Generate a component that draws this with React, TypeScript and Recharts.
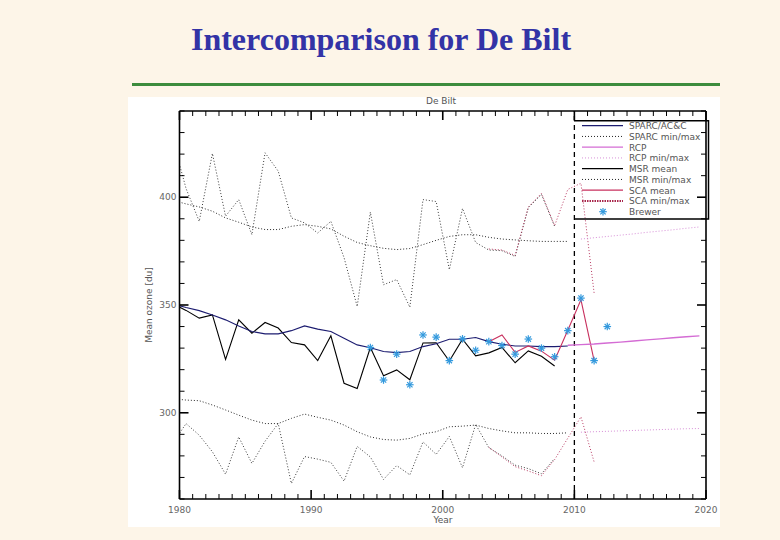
import { ComposedChart, Line, XAxis, YAxis, ReferenceLine, Legend } from "recharts"

// half-year grid (annual means plotted mid-year)
const years = [
  1979.5, 1980.5, 1981.5, 1982.5, 1983.5, 1984.5, 1985.5, 1986.5, 1987.5, 1988.5,
  1989.5, 1990.5, 1991.5, 1992.5, 1993.5, 1994.5, 1995.5, 1996.5, 1997.5, 1998.5,
  1999.5, 2000.5, 2001.5, 2002.5, 2003.5, 2004.5, 2005.5, 2006.5, 2007.5, 2008.5,
  2009.5, 2010.5, 2011.5, 2012.5, 2013.5, 2014.5, 2015.5, 2016.5, 2017.5, 2018.5,
  2019.5,
]

const sparcStart = 1979.5
const sparcMean = [
  350.5, 348.8, 347.4, 345.4, 343.1, 340.3, 337.7, 336.6, 336.6, 338.1, 340.3, 338.8,
  337.7, 334.6, 331.5, 330.2, 328.4, 327.9, 328.4, 330.7, 332.0, 334.1, 334.1, 334.9,
  333.0, 331.8, 331.0, 331.0, 330.7, 330.7, 331.0,
]
const sparcMax = [
  398.5, 396.9, 395.5, 393.5, 390.4, 388.4, 386.2, 385.0, 385.0, 386.5, 387.3, 386.5,
  385.3, 381.9, 379.0, 377.5, 376.3, 375.7, 376.2, 378.0, 380.0, 381.8, 382.6, 382.6,
  381.4, 380.6, 380.2, 379.8, 379.5, 379.5, 379.5,
]
const sparcMin = [
  306.5, 305.9, 305.6, 303.6, 301.3, 298.9, 296.6, 295.0, 295.0, 297.4, 299.4, 297.9,
  296.6, 294.3, 291.2, 288.8, 287.6, 287.3, 288.1, 290.2, 291.2, 293.5, 293.8, 294.3,
  292.7, 291.6, 290.7, 290.7, 290.4, 290.4, 290.7,
]

const msrStart = 1979.5
const msrMean = [
  350.5, 347.5, 343.9, 345.4, 324.8, 343.1, 336.9, 341.9, 339.3, 332.6, 331.5, 324.2,
  335.7, 313.7, 311.3, 330.3, 317.2, 319.9, 315.3, 332.4, 332.5, 324.0, 334.1, 326.4,
  327.8, 330.3, 323.2, 328.7, 326.2, 321.7,
]
const msrMax = [
  426.4, 404.0, 388.8, 420.3, 391.2, 398.9, 382.6, 420.6, 412.1, 390.4, 388.1, 383.4,
  388.8, 372.0, 349.3, 393.1, 359.4, 361.8, 349.0, 398.9, 398.0, 366.4, 394.8, 379.0,
  375.5, 375.2, 372.5, 395.1, 401.3, 386.5,
]
const msrMin = [
  286.0, 295.0, 289.6, 281.9, 271.5, 288.8, 276.5, 286.8, 295.0, 267.2, 279.7, 278.5,
  277.0, 268.3, 284.4, 279.5, 269.1, 275.5, 271.2, 286.5, 280.7, 289.0, 274.5, 294.6,
  283.8, 280.0, 275.7, 274.1, 271.7, 278.8,
]

const scaStart = 2003.5
const scaMean = [333.0, 336.1, 328.0, 331.0, 328.6, 324.4, 338.3, 352.4, 324.2]
const scaMax = [376.0, 375.5, 373.0, 395.5, 401.8, 386.8, 403.6, 406.5, 355.5]
const scaMin = [284.0, 279.5, 275.0, 273.0, 270.8, 278.3, 288.2, 298.1, 277.2]

const rcpStart = 2009.5
const rcpMean = [331.3, 331.6, 331.9, 332.4, 332.8, 333.3, 333.8, 334.3, 334.8, 335.3, 335.7]
const rcpRangeStart = 2010.5
const rcpMax = [380.6, 381.2, 381.8, 382.4, 383.0, 383.7, 384.3, 384.9, 385.6, 386.2]
const rcpMin = [291.0, 291.2, 291.4, 291.6, 291.8, 292.0, 292.2, 292.4, 292.6, 292.7]

const brewerStart = 1994.5
const brewer = [
  330.3, 315.2, 327.2, 313.0, 336.1, 335.1, 324.2, 334.3, 329.0, 333.0, 331.2, 327.2,
  334.2, 330.0, 326.0, 338.1, 353.2, 324.2, 340.0,
]

const xMajor = [1980, 1990, 2000, 2010, 2020]
const yMajor = [300, 350, 400]
const xTicks = Array.from({ length: 41 }, (_, i) => 1980 + i)
const yTicks = Array.from({ length: 19 }, (_, i) => 260 + i * 10)

const legendItems = [
  { label: "SPARC/AC&C", color: "#1c1c70", dash: undefined, width: 1.2 },
  { label: "SPARC min/max", color: "#222", dash: "1 2", width: 1 },
  { label: "RCP", color: "#d46cd4", dash: undefined, width: 1.2 },
  { label: "RCP min/max", color: "#d890d8", dash: "1 2", width: 1 },
  { label: "MSR mean", color: "#000", dash: undefined, width: 1.2 },
  { label: "MSR min/max", color: "#222", dash: "1 2", width: 1 },
  { label: "SCA mean", color: "#c8305e", dash: undefined, width: 1.2 },
  { label: "SCA min/max", color: "#a8284c", dash: "1.5 1", width: 2 },
  { label: "Brewer", color: "#3399dd", dash: "star", width: 1 },
]

const pick = (arr: number[], start: number, yr: number) => {
  const i = Math.round(yr - start)
  return i >= 0 && i < arr.length ? arr[i] : null
}

const data = years.map((yr) => ({
  year: yr,
  sparcMean: pick(sparcMean, sparcStart, yr),
  sparcMax: pick(sparcMax, sparcStart, yr),
  sparcMin: pick(sparcMin, sparcStart, yr),
  msrMean: pick(msrMean, msrStart, yr),
  msrMax: pick(msrMax, msrStart, yr),
  msrMin: pick(msrMin, msrStart, yr),
  scaMean: pick(scaMean, scaStart, yr),
  scaMax: pick(scaMax, scaStart, yr),
  scaMin: pick(scaMin, scaStart, yr),
  rcpMean: pick(rcpMean, rcpStart, yr),
  rcpMax: pick(rcpMax, rcpRangeStart, yr),
  rcpMin: pick(rcpMin, rcpRangeStart, yr),
  brewer: pick(brewer, brewerStart, yr),
}))

const labelFont = "'DejaVu Sans', sans-serif"

function XTick(props: any) {
  const { x, y, payload, side } = props
  const major = xMajor.includes(payload.value)
  const len = major ? 9 : 5
  const dir = side === "bottom" ? -1 : 1
  return (
    <g>
      <line x1={x} y1={y} x2={x} y2={y + dir * len} stroke="#000" strokeWidth={major ? 1.6 : 1} />
      {side === "bottom" && major && (
        <text x={x} y={y + 14} textAnchor="middle" fontSize={9} fontFamily={labelFont} fill="#666">
          {payload.value}
        </text>
      )}
    </g>
  )
}

function YTick(props: any) {
  const { x, y, payload, side } = props
  const major = yMajor.includes(payload.value)
  const len = major ? 9 : 5
  const dir = side === "left" ? 1 : -1
  return (
    <g>
      <line x1={x} y1={y} x2={x + dir * len} y2={y} stroke="#000" strokeWidth={major ? 1.6 : 1} />
      {side === "left" && major && (
        <text x={x - 3} y={y + 3} textAnchor="end" fontSize={9} fontFamily={labelFont} fill="#666">
          {payload.value}
        </text>
      )}
    </g>
  )
}

function Star(props: any) {
  const { cx, cy, value } = props
  if (value == null || cx == null || cy == null) return <g />
  const r = 3.8
  const d = r * 0.7
  return (
    <g stroke="#3399dd" strokeWidth={1.2}>
      <line x1={cx - r} y1={cy} x2={cx + r} y2={cy} />
      <line x1={cx} y1={cy - r} x2={cx} y2={cy + r} />
      <line x1={cx - d} y1={cy - d} x2={cx + d} y2={cy + d} />
      <line x1={cx - d} y1={cy + d} x2={cx + d} y2={cy - d} />
    </g>
  )
}

function LegendBox() {
  const rowH = 10.75
  return (
    <svg width={136} height={100} style={{ display: "block", overflow: "visible" }}>
      <polyline points="0,0.75 134.5,0.75 134.5,99 0,99" fill="none" stroke="#000" strokeWidth={1.5} />
      {legendItems.map((it, i) => {
        const y = 5.7 + i * rowH
        return (
          <g key={it.label}>
            {it.dash === "star" ? (
              <Star cx={29} cy={y} value={1} />
            ) : (
              <line x1={8} y1={y} x2={49} y2={y} stroke={it.color} strokeWidth={it.width} strokeDasharray={it.dash} />
            )}
            <text x={55} y={y + 3.3} fontSize={9} fontFamily={labelFont} fill="#555">
              {it.label}
            </text>
          </g>
        )
      })}
    </svg>
  )
}

const lineProps = { dot: false, activeDot: false, isAnimationActive: false, xAxisId: "b", yAxisId: "l", legendType: "none" as const }

export default function App() {
  return (
    <div style={{ position: "absolute", left: 0, top: 0, width: 780, height: 540, background: "#fdf5e8", overflow: "hidden" }}>
      <div
        style={{
          position: "absolute",
          left: 0,
          top: 23,
          width: 762,
          textAlign: "center",
          fontFamily: "'Liberation Serif', 'DejaVu Serif', serif",
          fontWeight: "bold",
          fontSize: 32,
          lineHeight: "32px",
          color: "#3333a6",
        }}
      >
        Intercomparison for De Bilt
      </div>
      <div style={{ position: "absolute", left: 132, top: 83, width: 588, height: 3, background: "#3d8c3d" }} />
      <div style={{ position: "absolute", left: 128, top: 97, width: 592, height: 430, background: "#fff" }}>
        <ComposedChart width={592} height={430} data={data} margin={{ top: 13, right: 13, bottom: 8, left: 11.5 }}>
          <XAxis
            xAxisId="b"
            dataKey="year"
            type="number"
            domain={[1980, 2020]}
            allowDataOverflow
            ticks={xTicks}
            interval={0}
            tickLine={false}
            tickSize={0}
            tickMargin={0}
            height={20}
            axisLine={{ stroke: "#000", strokeWidth: 1.6 }}
            tick={(p: any) => <XTick {...p} side="bottom" />}
          />
          <XAxis
            xAxisId="t"
            orientation="top"
            dataKey="year"
            type="number"
            domain={[1980, 2020]}
            allowDataOverflow
            ticks={xTicks}
            interval={0}
            tickLine={false}
            tickSize={0}
            tickMargin={0}
            height={1}
            axisLine={{ stroke: "#000", strokeWidth: 1.6 }}
            tick={(p: any) => <XTick {...p} side="top" />}
          />
          <YAxis
            yAxisId="l"
            type="number"
            domain={[260, 440]}
            allowDataOverflow
            ticks={yTicks}
            interval={0}
            tickLine={false}
            tickSize={0}
            tickMargin={0}
            width={40}
            axisLine={{ stroke: "#000", strokeWidth: 1.6 }}
            tick={(p: any) => <YTick {...p} side="left" />}
          />
          <YAxis
            yAxisId="r"
            orientation="right"
            type="number"
            domain={[260, 440]}
            allowDataOverflow
            ticks={yTicks}
            interval={0}
            tickLine={false}
            tickSize={0}
            tickMargin={0}
            width={1}
            axisLine={{ stroke: "#000", strokeWidth: 1.6 }}
            tick={(p: any) => <YTick {...p} side="right" />}
          />
          <Legend
            layout="horizontal"
            verticalAlign="middle"
            align="center"
            content={() => <LegendBox />}
            wrapperStyle={{ position: "absolute", left: 446, top: 23, width: 136, height: 100 }}
          />
          <ReferenceLine xAxisId="b" yAxisId="l" x={2010} stroke="#000" strokeWidth={1.3} strokeDasharray="5 4" />

          <Line {...lineProps} dataKey="sparcMax" stroke="#2a2a2a" strokeWidth={1} strokeDasharray="1 2" />
          <Line {...lineProps} dataKey="sparcMin" stroke="#2a2a2a" strokeWidth={1} strokeDasharray="1 2" />
          <Line {...lineProps} dataKey="msrMax" stroke="#3a3a3a" strokeWidth={1} strokeDasharray="1 2" />
          <Line {...lineProps} dataKey="msrMin" stroke="#3a3a3a" strokeWidth={1} strokeDasharray="1 2" />
          <Line {...lineProps} dataKey="scaMax" stroke="#b83a62" strokeWidth={1} strokeDasharray="1 2" />
          <Line {...lineProps} dataKey="scaMin" stroke="#b83a62" strokeWidth={1} strokeDasharray="1 2" />
          <Line {...lineProps} dataKey="rcpMax" stroke="#d890d8" strokeWidth={1} strokeDasharray="1 2" />
          <Line {...lineProps} dataKey="rcpMin" stroke="#d890d8" strokeWidth={1} strokeDasharray="1 2" />

          <Line {...lineProps} dataKey="msrMean" stroke="#000" strokeWidth={1.1} />
          <Line {...lineProps} dataKey="sparcMean" stroke="#1c1c70" strokeWidth={1.1} />
          <Line {...lineProps} dataKey="scaMean" stroke="#c8305e" strokeWidth={1.1} />
          <Line {...lineProps} dataKey="rcpMean" stroke="#d46cd4" strokeWidth={1.4} />
          <Line {...lineProps} dataKey="brewer" stroke="none" dot={(p: any) => <Star key={p.key ?? p.index} {...p} />} />
        </ComposedChart>
        <div
          style={{
            position: "absolute",
            left: -29.5,
            top: 202,
            width: 100,
            height: 12,
            lineHeight: "12px",
            textAlign: "center",
            transform: "rotate(-90deg)",
            fontFamily: labelFont,
            fontSize: 9,
            color: "#555",
          }}
        >
          Mean ozone [du]
        </div>
        <div style={{ position: "absolute", left: 265, top: 417, width: 100, textAlign: "center", fontFamily: labelFont, fontSize: 9, lineHeight: "12px", color: "#555" }}>
          Year
        </div>
        <div style={{ position: "absolute", left: 263, top: -2, width: 100, textAlign: "center", fontFamily: labelFont, fontSize: 9, lineHeight: "12px", color: "#555" }}>
          De Bilt
        </div>
      </div>
    </div>
  )
}
